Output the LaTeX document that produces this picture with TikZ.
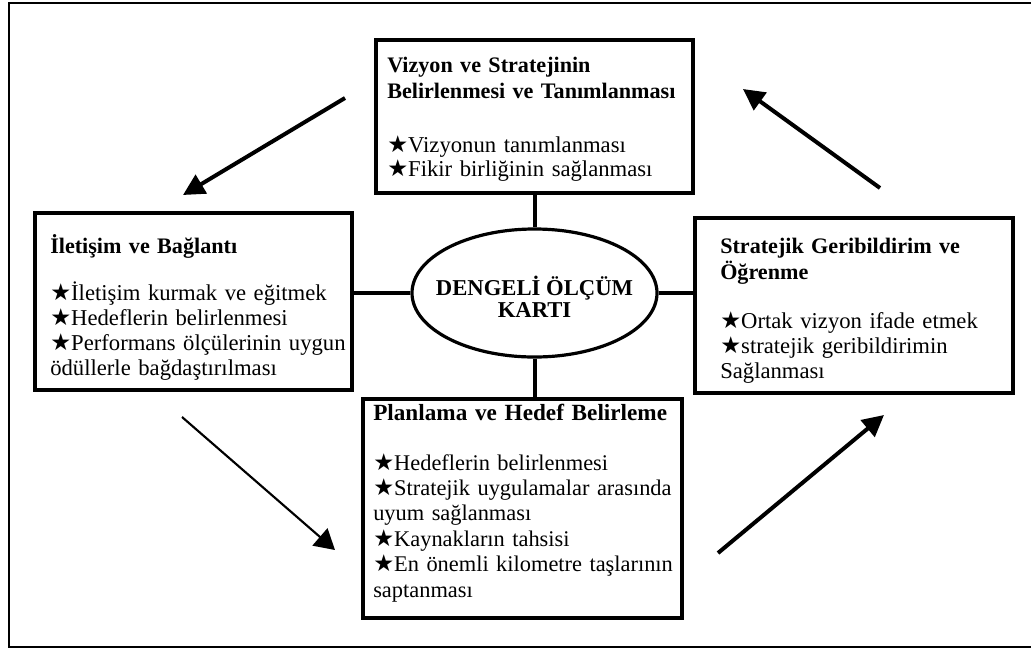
\documentclass[tikz,border=0pt]{standalone}
\usepackage{fontspec}
\setmainfont{Liberation Serif}
\newfontfamily\symf{DejaVu Sans}
\usetikzlibrary{arrows.meta,shapes.geometric}
\newcommand\mystar{\smash{\symf\fontsize{17.5pt}{17.5pt}\selectfont ★}}
\begin{document}
\begin{tikzpicture}[x=0.75pt,y=-0.75pt,
  boxnode/.style={draw, line width=2.4pt, inner sep=0pt, fill=white},
  titletext/.style={anchor=base west, inner sep=0pt, text width=300pt, align=left,
    font=\fontsize{16.6pt}{19.5pt}\selectfont\bfseries},
  bodytext/.style={anchor=base west, inner sep=0pt, text width=300pt, align=left,
    font=\fontsize{17pt}{18.75pt}\selectfont},
  link/.style={line width=3pt},
  bigarrow/.style={line width=3pt, -{Triangle[length=16pt,width=16pt]}},
  thinarrow/.style={line width=1.6pt, -{Triangle[length=15pt,width=17pt]}}]
\useasboundingbox (0,0) rectangle (1031,651);
\fill[white] (0,0) rectangle (1031,651);
% outer frame (right side cut off)
\draw[line width=2.2pt] (1045,3) -- (9,3) -- (9,647) -- (1045,647);

% boxes
\node[boxnode, minimum width=237.75pt, minimum height=114.75pt] (T) at (534.5,116.5) {};
\node[boxnode, minimum width=237.75pt, minimum height=132.75pt] (L) at (193.5,301.5) {};
\node[boxnode, minimum width=238.5pt, minimum height=131.25pt] (R) at (854,305.5) {};
\node[boxnode, minimum width=239.25pt, minimum height=164.25pt] (B) at (522.5,508.5) {};
\node[draw, ellipse, line width=2.4pt, inner sep=0pt, minimum width=183.75pt, minimum height=96pt] (E) at (534.5,293) {};
\node[align=center, inner sep=0pt, font=\fontsize{17pt}{16.5pt}\selectfont\bfseries] (Et) at (534.5,297)
  {DENGELİ ÖLÇÜM\\KARTI};

% links
\draw[link] (T.south -| E.north) -- (E.north);
\draw[link] (E.west) -- (E.west -| L.east);
\draw[link] (E.east) -- (E.east -| R.west);
\draw[link] (E.south) -- (E.south |- B.north);

% texts
\node[titletext] (Tt) at (387,72) {Vizyon ve Stratejinin\\Belirlenmesi ve Tanımlanması};
\node[bodytext, font=\fontsize{17pt}{18pt}\selectfont] (Tb) at (387,152)
  {\mystar Vizyonun tanımlanması\\\mystar Fikir birliğinin sağlanması};

\node[titletext] (Lt) at (50,253) {İletişim ve Bağlantı};
\node[bodytext] (Lb) at (50,300)
  {\mystar İletişim kurmak ve eğitmek\\\mystar Hedeflerin belirlenmesi\\\mystar Performans ölçülerinin uygun\\ödüllerle bağdaştırılması};

\node[titletext] (Rt) at (720,253) {Stratejik Geribildirim ve\\Öğrenme};
\node[bodytext] (Rb) at (720,328)
  {\mystar Ortak vizyon ifade etmek\\\mystar stratejik geribildirimin\\Sağlanması};

\node[titletext, font=\fontsize{17.4pt}{19.5pt}\selectfont\bfseries] (Bt) at (373,420) {Planlama ve Hedef Belirleme};
\node[bodytext, font=\fontsize{16.8pt}{19.1pt}\selectfont] (Bb) at (373,470)
  {\mystar Hedeflerin belirlenmesi\\\mystar Stratejik uygulamalar arasında\\uyum sağlanması\\\mystar Kaynakların tahsisi\\\mystar En önemli kilometre taşlarının\\saptanması};

% cycle arrows
\coordinate (a1s) at (345,98);  \coordinate (a1e) at (183,195);
\coordinate (a2s) at (182,417); \coordinate (a2e) at (335,550);
\coordinate (a3s) at (718,553); \coordinate (a3e) at (884,415);
\coordinate (a4s) at (880,188); \coordinate (a4e) at (743,89);
\draw[bigarrow] (a1s) -- (a1e);
\draw[thinarrow] (a2s) -- (a2e);
\draw[bigarrow] (a3s) -- (a3e);
\draw[bigarrow] (a4s) -- (a4e);
\end{tikzpicture}
\end{document}
